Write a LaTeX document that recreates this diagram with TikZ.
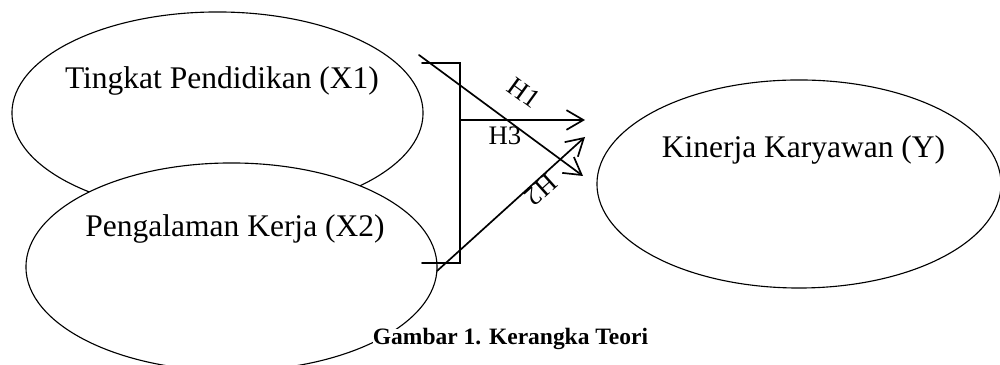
\documentclass[tikz,border=0pt]{standalone}
\usepackage{fontspec}
\setmainfont{Liberation Serif}
\usepackage{tikz}
\usetikzlibrary{calc, shapes.geometric, arrows.meta}
\usepackage{tkz-euclide}

\begin{document}
\begin{tikzpicture}[x=0.025cm, y=0.025cm,
    varell/.style={draw, ellipse, line width=0.8pt, inner sep=0pt},
    vartext/.style={anchor=base, font=\fontsize{22.4}{26}\selectfont},
    hyplabel/.style={font=\fontsize{19}{22}\selectfont, inner sep=0pt},
    hyparrow/.style={line width=1.2pt, -{Straight Barb[length=12pt,width=14pt]}}]
                \useasboundingbox (0,0) rectangle (1000,365);
                \node[varell, minimum width=10.275cm, minimum height=5.05cm] (x1) at (217.5,252) {};
                \node[varell, fill=white, minimum width=10.275cm, minimum height=5.2cm] (x2) at (231.5,98) {};
                \node[varell, minimum width=10.1cm, minimum height=5.2cm] (y) at (799,181) {};
                \node[vartext] (x1text) at (222,276) {Tingkat Pendidikan (X1)};
                \node[vartext] (x2text) at (235,128) {Pengalaman Kerja (X2)};
                \node[vartext] (ytext) at (803.5,207) {Kinerja Karyawan (Y)};
                \tkzDefPoints{422/302/B1, 460/302/B2, 460/102/B3, 422/102/B4}
                \tkzDefPoints{460/245/P3, 585/245/Q3, 419/310/P1, 583/189/Q1, 437/94/P2, 585/228/Q2}
                \tkzDrawPolySeg[line width=1.2pt](B1,B2,B3,B4)
                \tkzDrawSegments[hyparrow](P3,Q3 P1,Q1 P2,Q2)
                \node[hyplabel, rotate=-36] (h1) at (524,272) {H1};
                \node[hyplabel, rotate=222] (h2) at (541,175) {H2};
                \node[hyplabel, anchor=base] (h3) at (505,220) {H3};
                \node[anchor=base, fill=white, inner sep=0pt, font=\bfseries\fontsize{16.7}{20}\selectfont] (caption) at (510.5,20) {Gambar 1. Kerangka Teori};
            \end{tikzpicture}
\end{document}
